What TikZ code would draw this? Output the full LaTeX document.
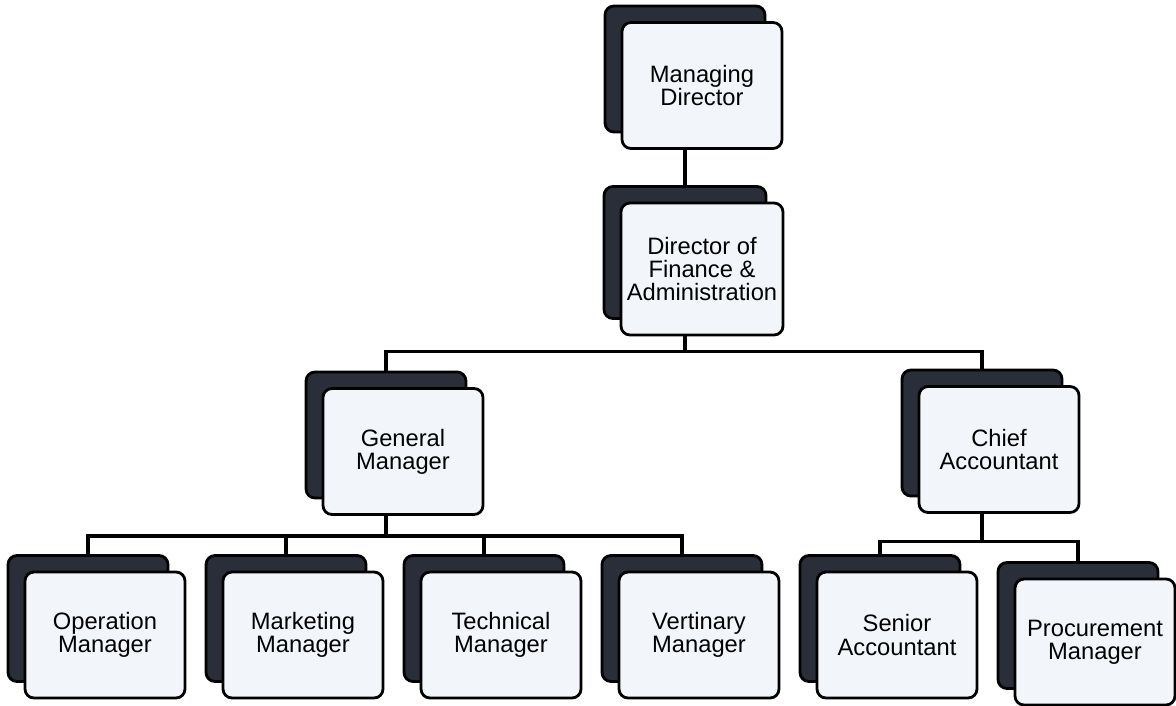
\documentclass[tikz,border=0pt]{standalone}
\usepackage{fontspec}
\setmainfont{Liberation Sans}
\usepackage{tikz}
\usetikzlibrary{positioning}
\usetikzlibrary{shadows}
\definecolor{cardback}{RGB}{42,46,56}
\definecolor{cardface}{RGB}{242,245,250}

\begin{document}
\begin{tikzpicture}[node distance=3.96cm,on grid,
		card/.style={rectangle,rounded corners=1.8mm,draw=black,line width=1.6pt,fill=cardface,
			minimum width=3.2cm,minimum height=2.52cm,align=center,
			font=\fontsize{13.5pt}{13.1pt}\selectfont,
			copy shadow={shadow xshift=-3.4mm,shadow yshift=3.3mm,fill=cardback,draw=black,line width=1.6pt}},
		link/.style={draw=black,line width=1.8pt}]
		\useasboundingbox (0,0) rectangle (23.52,-14.1);
		\node[card]  (md)  at (14.04,-1.71)    {Managing\\Director};
		\node[card]  (dfa) [below=3.67cm of md, minimum height=2.64cm] {Director of\\Finance \&\\Administration};
		\node[card]  (gm)  [below left=3.65cm and 5.98cm of dfa]  {General\\Manager};
		\node[card]  (ca)  [below right=3.61cm and 5.94cm of dfa] {Chief\\Accountant};
		\node[card]  (op)  [below left=3.67cm and 5.96cm of gm]   {Operation\\Manager};
		\node[card]  (mk)  [right=of op] {Marketing\\Manager};
		\node[card]  (tc)  [right=of mk] {Technical\\Manager};
		\node[card]  (vt)  [right=of tc] {Vertinary\\Manager};
		\node[card]  (sa)  [right=of vt] {Senior\\Accountant};
		\node[card]  (pm)  [right=of sa, yshift=-1.4mm] {Procurement\\Manager};
		
		% lines run from the middle of the dark back card
		\path[link]
		([xshift=-3.4mm]md.south) edge ([xshift=-3.4mm,yshift=3.3mm]dfa.north);
		\draw[link] ([xshift=-3.4mm]dfa.south) -- ++(0,-0.3) coordinate (bus1);
		\draw[link] ([xshift=-3.4mm,yshift=3.3mm]gm.north) |- (bus1) -| ([xshift=-3.4mm,yshift=3.3mm]ca.north);
		\draw[link] ([xshift=-3.4mm]gm.south) -- ++(0,-0.4) coordinate (bus2);
		\foreach \n in {op,mk,tc,vt}
			\draw[link] ([xshift=-3.4mm,yshift=3.3mm]\n.north) |- (bus2);
		\draw[link] ([xshift=-3.4mm]ca.south) -- ++(0,-0.55) coordinate (bus3);
		\foreach \n in {sa,pm}
			\draw[link] ([xshift=-3.4mm,yshift=3.3mm]\n.north) |- (bus3);
\end{tikzpicture}
\end{document}
